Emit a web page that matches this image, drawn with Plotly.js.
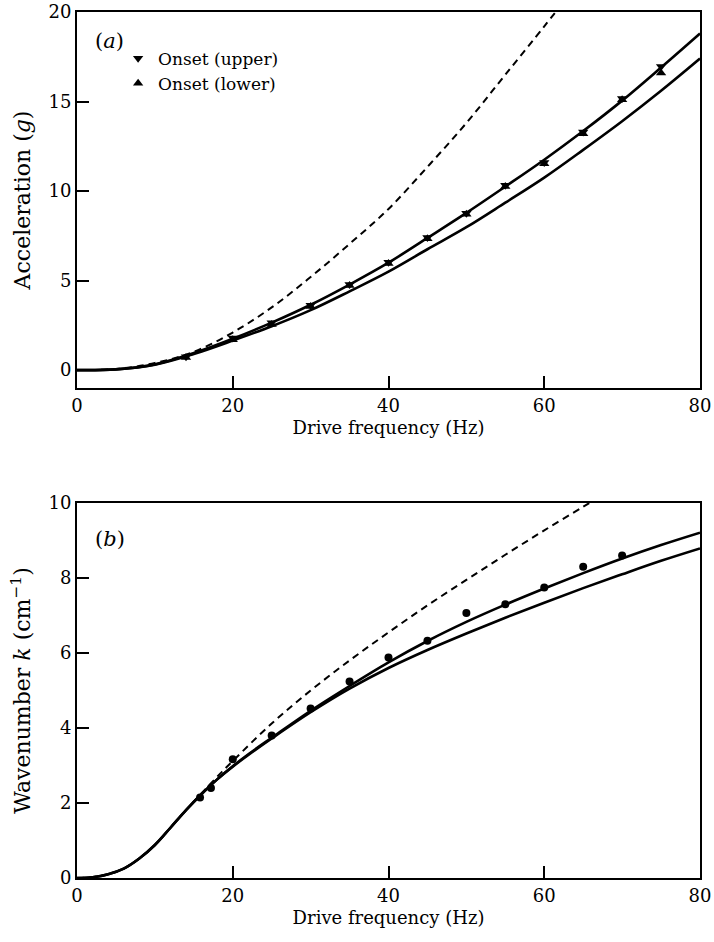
<!DOCTYPE html>
<html>
<head>
<meta charset="utf-8">
<script src="https://cdn.plot.ly/plotly-3.0.1.min.js"></script>
<style>html,body{margin:0;padding:0;background:#fff;}#chart{width:714px;height:942px;}</style>
</head>
<body>
<div id="chart"></div>
<script>
// ---------- Panel (a): acceleration vs drive frequency ----------
var freqA         = [0, 5, 10, 15, 20, 25, 30, 35, 40, 45, 50, 55, 60, 65, 70, 75, 80];
var accUpperCurve = [0, 0.04, 0.32, 0.95, 1.75, 2.65, 3.65, 4.78, 6.0, 7.38, 8.78, 10.25, 11.75, 13.35, 15.05, 16.9, 18.8];
var accLowerCurve = [0, 0.04, 0.3, 0.9, 1.65, 2.45, 3.35, 4.4, 5.5, 6.75, 7.98, 9.35, 10.75, 12.3, 13.9, 15.6, 17.4];
var freqDashA     = [0, 5, 10, 15, 20, 25, 30, 35, 40, 45, 50, 55, 60, 62];
var accDashed     = [0, 0.06, 0.4, 1.02, 2.1, 3.5, 5.2, 7.05, 9.0, 11.35, 13.8, 16.5, 19.2, 20.3];

var onsetFreq  = [14, 20, 25, 30, 35, 40, 45, 50, 55, 60, 65, 70, 75];
var onsetUpper = [0.75, 1.8, 2.65, 3.62, 4.78, 6.02, 7.4, 8.76, 10.32, 11.6, 13.3, 15.17, 16.95];
var onsetLower = [0.7, 1.7, 2.55, 3.55, 4.72, 5.95, 7.33, 8.7, 10.25, 11.52, 13.2, 15.1, 16.6];

// ---------- Panel (b): wavenumber vs drive frequency ----------
var freqB     = [0, 2, 4, 6, 8, 10, 12, 14, 16, 18, 20, 22, 25, 30, 35, 40, 45, 50, 55, 60, 65, 70, 75, 80];
var kUpper    = [0, 0.02, 0.1, 0.25, 0.52, 0.88, 1.34, 1.81, 2.24, 2.63, 2.98, 3.3, 3.74, 4.46, 5.12, 5.75, 6.32, 6.83, 7.29, 7.72, 8.13, 8.52, 8.88, 9.21];
var kLower    = [0, 0.02, 0.1, 0.25, 0.52, 0.88, 1.34, 1.81, 2.24, 2.63, 2.97, 3.28, 3.72, 4.42, 5.05, 5.6, 6.08, 6.52, 6.94, 7.34, 7.73, 8.1, 8.46, 8.79];
var freqDashB = [0, 2, 4, 6, 8, 10, 12, 14, 16, 18, 20, 25, 30, 35, 40, 45, 50, 55, 60, 65, 67];
var kDashed   = [0, 0.02, 0.1, 0.25, 0.52, 0.88, 1.34, 1.81, 2.26, 2.7, 3.12, 4.12, 5.0, 5.8, 6.55, 7.27, 7.95, 8.62, 9.27, 9.9, 10.15];

var kDataFreq = [15.8, 17.2, 20, 25, 30, 35, 40, 45, 50, 55, 60, 65, 70];
var kData     = [2.15, 2.4, 3.17, 3.8, 4.52, 5.24, 5.88, 6.33, 7.07, 7.3, 7.75, 8.3, 8.6];

var xTicks  = [0, 20, 40, 60, 80];
var yTicksA = [0, 5, 10, 15, 20];
var yTicksB = [0, 2, 4, 6, 8, 10];

var black = '#000';
var solid = {color: black, width: 2.6, shape: 'spline'};
var dashed = {color: black, width: 2, dash: '7px,5px', shape: 'spline'};

var traces = [
  {x: freqA, y: accUpperCurve, mode: 'lines', line: solid, showlegend: false, xaxis: 'x', yaxis: 'y'},
  {x: freqA, y: accLowerCurve, mode: 'lines', line: solid, showlegend: false, xaxis: 'x', yaxis: 'y'},
  {x: freqDashA, y: accDashed, mode: 'lines', line: dashed, showlegend: false, xaxis: 'x', yaxis: 'y'},
  {x: onsetFreq, y: onsetUpper, mode: 'markers', name: 'Onset (upper)',
   marker: {symbol: 'triangle-down', size: 9, color: black}, xaxis: 'x', yaxis: 'y'},
  {x: onsetFreq, y: onsetLower, mode: 'markers', name: 'Onset (lower)',
   marker: {symbol: 'triangle-up', size: 9, color: black}, xaxis: 'x', yaxis: 'y'},
  {x: freqB, y: kUpper, mode: 'lines', line: solid, showlegend: false, xaxis: 'x2', yaxis: 'y2'},
  {x: freqB, y: kLower, mode: 'lines', line: solid, showlegend: false, xaxis: 'x2', yaxis: 'y2'},
  {x: freqDashB, y: kDashed, mode: 'lines', line: dashed, showlegend: false, xaxis: 'x2', yaxis: 'y2'},
  {x: kDataFreq, y: kData, mode: 'markers', showlegend: false,
   marker: {symbol: 'circle', size: 8, color: black}, xaxis: 'x2', yaxis: 'y2'}
];

var font = 'DejaVu Serif';
function xAxis(anchor) {
  return {
    anchor: anchor, range: [0, 80], tickvals: xTicks, ticktext: xTicks.map(String),
    ticks: 'inside', ticklen: 12, tickwidth: 2, tickcolor: black,
    showline: true, linewidth: 2, linecolor: black, mirror: true,
    showgrid: false, zeroline: false,
    tickfont: {family: font, size: 18, color: black},
    title: {text: 'Drive frequency (Hz)', font: {family: font, size: 18, color: black}, standoff: 7}
  };
}
function yAxis(anchor, range, ticks, domain, title) {
  return {
    anchor: anchor, range: range, tickvals: ticks, ticktext: ticks.map(String), domain: domain,
    ticks: 'inside', ticklen: 12, tickwidth: 2, tickcolor: black,
    showline: true, linewidth: 2, linecolor: black, mirror: true,
    showgrid: false, zeroline: false,
    tickfont: {family: font, size: 18, color: black},
    title: {text: title, font: {family: font, size: 22, color: black}, standoff: 12}
  };
}

var layout = {
  width: 714, height: 942,
  margin: {l: 77, r: 14, t: 12, b: 64},
  paper_bgcolor: '#fff', plot_bgcolor: '#fff',
  font: {family: font, color: black},
  showlegend: true,
  legend: {
    x: 0.066, y: 0.967, xanchor: 'left', yanchor: 'top',
    bgcolor: 'rgba(0,0,0,0)', borderwidth: 0,
    font: {family: font, size: 17, color: black},
    itemwidth: 30, tracegroupgap: 0
  },
  xaxis: xAxis('y'),
  yaxis: yAxis('x', [-1, 20], yTicksA, [0.5658, 1], 'Acceleration (<i>g</i>)'),
  xaxis2: xAxis('y2'),
  yaxis2: yAxis('x2', [0, 10], yTicksB, [0, 0.433], 'Wavenumber <i>k</i> (cm<sup>−1</sup>)'),
  annotations: [
    {xref: 'x', yref: 'y', x: 2.0, y: 18.4, text: '(<i>a</i>)', showarrow: false,
     xanchor: 'left', font: {family: font, size: 21, color: black}},
    {xref: 'x2', yref: 'y2', x: 2.0, y: 9.05, text: '(<i>b</i>)', showarrow: false,
     xanchor: 'left', font: {family: font, size: 21, color: black}}
  ]
};

Plotly.newPlot('chart', traces, layout, {staticPlot: true, displayModeBar: false});
</script>
</body>
</html>
